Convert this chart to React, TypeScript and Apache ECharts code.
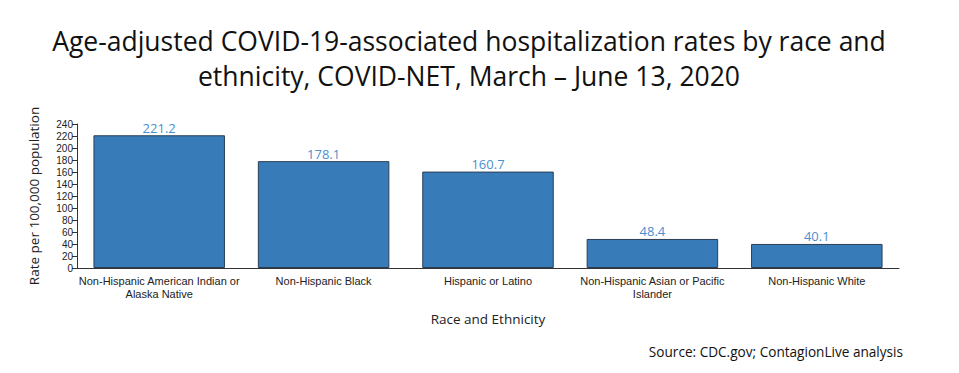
import React, { useEffect, useRef } from "react";
import * as echarts from "echarts";

const categories = [
  "Non-Hispanic American Indian or\nAlaska Native",
  "Non-Hispanic Black",
  "Hispanic or Latino",
  "Non-Hispanic Asian or Pacific\nIslander",
  "Non-Hispanic White",
];
const rates = [221.2, 178.1, 160.7, 48.4, 40.1];
const titleText =
  "Age-adjusted COVID-19-associated hospitalization rates by race and\nethnicity, COVID-NET, March \u2013 June 13, 2020";
const sourceText = "Source: CDC.gov; ContagionLive analysis";

const FONT = "'Open Sans', 'Noto Sans', sans-serif";
const SMALL_FONT = "'Liberation Sans', Arial, sans-serif";

export default function App() {
  const ref = useRef<HTMLDivElement>(null);
  useEffect(() => {
    document.body.style.margin = "0";
    const chart = echarts.init(ref.current!, null, { renderer: "svg" });
    chart.setOption({
      animation: false,
      backgroundColor: "#ffffff",
      title: {
        text: titleText,
        left: 464,
        top: 18,
        textAlign: "center",
        textStyle: {
          fontFamily: FONT,
          fontSize: 26.5,
          fontWeight: "normal",
          color: "#111",
          lineHeight: 35,
        },
      },
      graphic: [
        {
          type: "text",
          right: 56,
          top: 344,
          style: {
            text: sourceText,
            font: `13.6px ${FONT}`,
            fill: "#111",
          },
        },
      ],
      grid: { left: 77, right: 60, top: 124, bottom: 105 },
      xAxis: {
        type: "category",
        data: categories,
        name: "Race and Ethnicity",
        nameLocation: "middle",
        nameGap: 44,
        nameTextStyle: { fontFamily: FONT, fontSize: 13.5, color: "#222" },
        axisLine: { lineStyle: { color: "#333" } },
        axisTick: { alignWithLabel: true, length: 5, lineStyle: { color: "#333" } },
        axisLabel: {
          fontFamily: SMALL_FONT,
          fontSize: 11,
          color: "#222",
          lineHeight: 13,
          margin: 6,
          interval: 0,
        },
      },
      yAxis: {
        type: "value",
        min: 0,
        max: 240,
        interval: 20,
        name: "Rate per 100,000 population",
        nameLocation: "middle",
        nameGap: 36,
        nameRotate: 90,
        nameTextStyle: { fontFamily: FONT, fontSize: 13.5, color: "#222" },
        axisLine: { show: true, lineStyle: { color: "#333" } },
        axisTick: { show: true, length: 5, lineStyle: { color: "#333" } },
        axisLabel: {
          fontFamily: SMALL_FONT,
          fontSize: 10,
          lineHeight: 10,
          color: "#222",
          margin: 4,
        },
        splitLine: { show: false },
      },
      series: [
        {
          type: "bar",
          data: rates,
          barCategoryGap: "20%",
          itemStyle: { color: "#377cb9", borderColor: "#2a3f55", borderWidth: 1 },
          label: {
            show: true,
            position: "top",
            distance: 1,
            fontFamily: FONT,
            fontSize: 13,
            color: "#4a8fd0",
          },
        },
      ],
    });
    return () => chart.dispose();
  }, []);
  return <div ref={ref} style={{ width: 959, height: 373 }} />;
}
